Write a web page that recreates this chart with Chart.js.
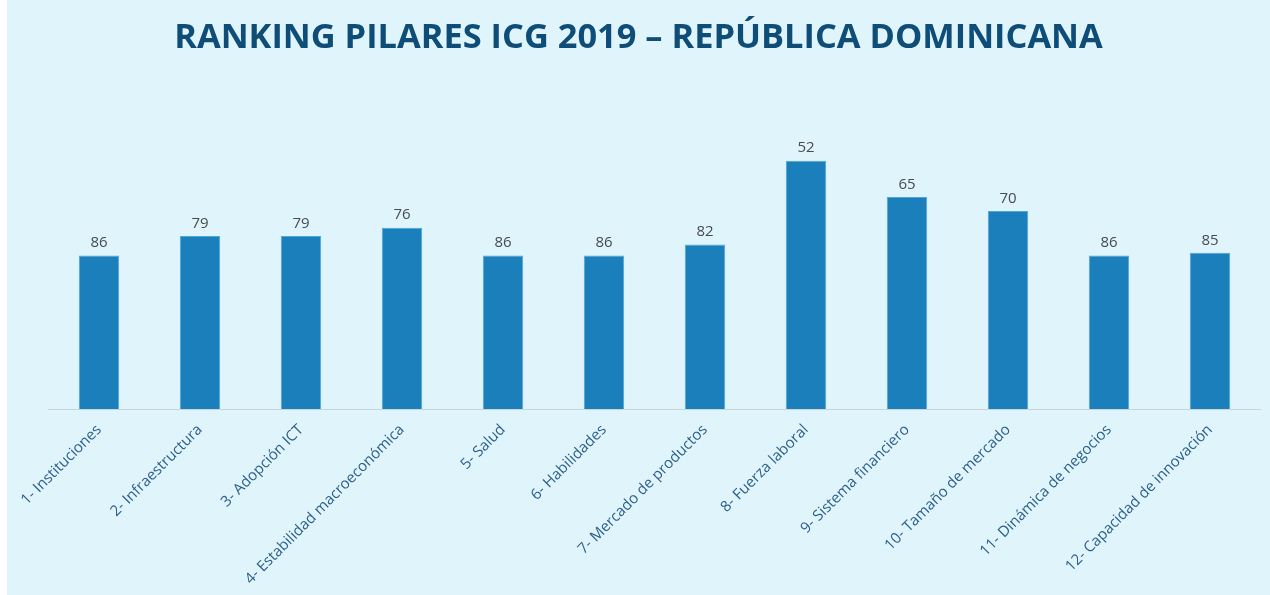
<!DOCTYPE html>
<html>
<head>
<meta charset="utf-8">
<script src="https://cdn.jsdelivr.net/npm/chart.js@4"></script>
<style>
  html, body { margin: 0; padding: 0; background: #ffffff; }
  #wrap { position: absolute; left: 7px; top: 0; width: 1263px; height: 595px; background: #e0f4fb; }
</style>
</head>
<body>
<div id="wrap"><canvas id="myChart"></canvas></div>
<script>
// pilares del ICG 2019
var pilares = [
  "1- Instituciones", "2- Infraestructura", "3- Adopción ICT",
  "4- Estabilidad macroeconómica", "5- Salud", "6- Habilidades",
  "7- Mercado de productos", "8- Fuerza laboral", "9- Sistema financiero",
  "10- Tamaño de mercado", "11- Dinámica de negocios", "12- Capacidad de innovación"
];
// posicion de RD en cada pilar (de 141 economias)
var ranking = [86, 79, 79, 76, 86, 86, 82, 52, 65, 70, 86, 85];
var totalEconomias = 141;

// barra mas alta = mejor posicion
var alturas = ranking.map(function (r) { return totalEconomias - r; });

// etiquetas con el ranking encima de cada barra
var etiquetas = {
  id: 'etiquetas',
  afterDatasetsDraw: function (chart) {
    var ctx = chart.ctx;
    var meta = chart.getDatasetMeta(0);
    ctx.save();
    ctx.font = '15px "Open Sans"';
    ctx.fillStyle = '#464b50';
    ctx.textAlign = 'center';
    ctx.textBaseline = 'bottom';
    meta.data.forEach(function (bar, i) {
      ctx.fillText(ranking[i], bar.x, bar.y - 5);
    });
    ctx.restore();
  }
};

new Chart(document.getElementById('myChart'), {
  type: 'bar',
  data: {
    labels: pilares,
    datasets: [{
      data: alturas,
      backgroundColor: '#1a7fba',
      borderColor: '#4fa6d8',
      borderWidth: 1,
      barPercentage: 0.8,
      categoryPercentage: 0.5
    }]
  },
  options: {
    responsive: true,
    maintainAspectRatio: false,
    animation: false,
    layout: { padding: 0 },
    plugins: {
      legend: { display: false },
      tooltip: { enabled: false },
      title: {
        display: true,
        text: 'RANKING PILARES ICG 2019 – REPÚBLICA DOMINICANA',
        color: '#0e4d78',
        font: { family: '"Open Sans"', size: 34.4, weight: 'bold' },
        padding: { top: 18, bottom: 70.7 }
      }
    },
    scales: {
      x: {
        grid: { display: false },
        border: { display: true, color: '#c8d5db', width: 1 },
        ticks: {
          color: '#2b5f88',
          font: { family: '"Open Sans"', size: 15 },
          maxRotation: 45,
          minRotation: 45,
          autoSkip: false,
          padding: 4
        },
        afterFit: function (scale) {
          // alto fijo del eje y margenes laterales del area del grafico
          scale.height = 186;
          scale.paddingLeft = 41.5;
          scale.paddingRight = 9.5;
        }
      },
      y: {
        display: false,
        min: 0,
        max: 100
      }
    }
  },
  plugins: [etiquetas]
});
</script>
</body>
</html>
